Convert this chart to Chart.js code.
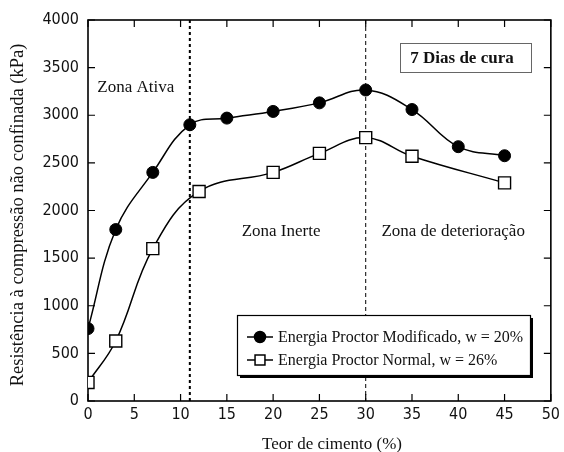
<!DOCTYPE html>
<html>
<head>
<meta charset="utf-8">
<script src="https://cdn.jsdelivr.net/npm/chart.js@4"></script>
<style>
  html, body { margin: 0; padding: 0; background: #fff; }
  canvas { display: block; }
</style>
</head>
<body>
<canvas id="grafico" width="564" height="452"></canvas>
<script>
// teor de cimento (%) e resistência (kPa)
const teorModificado = [0, 3, 7, 11, 15, 20, 25, 30, 35, 40, 45];
const resModificado = [760, 1800, 2400, 2900, 2970, 3040, 3130, 3265, 3060, 2670, 2575];
const teorNormal = [0, 3, 7, 12, 20, 25, 30, 35, 45];
const resNormal = [195, 630, 1600, 2200, 2400, 2600, 2765, 2570, 2290];

const nomeModificado = "Energia Proctor Modificado, w = 20%";
const nomeNormal = "Energia Proctor Normal, w = 26%";
const limitesZona = [11, 30];

const serif = "'Liberation Serif', 'Times New Roman', serif";
const sans = "'DejaVu Sans Condensed', sans-serif";

function pontos(xs, ys) {
  return xs.map((x, i) => ({ x: x, y: ys[i] }));
}

// ticks para dentro nos quatro lados, linhas das zonas e textos
const extras = {
  id: "extras",
  beforeDatasetsDraw(chart) {
    const c = chart.ctx;
    const sx = chart.scales.x, sy = chart.scales.y;
    const a = chart.chartArea;

    c.save();
    c.strokeStyle = "#000";
    // linha da zona ativa (pontilhada grossa)
    c.lineWidth = 2;
    c.setLineDash([3, 3]);
    let px = sx.getPixelForValue(limitesZona[0]);
    c.beginPath(); c.moveTo(px, a.top); c.lineTo(px, a.bottom); c.stroke();
    // linha da zona de deterioração (tracejada fina)
    c.lineWidth = 1;
    c.setLineDash([4, 3]);
    px = sx.getPixelForValue(limitesZona[1]);
    c.beginPath(); c.moveTo(px, a.top); c.lineTo(px, a.bottom); c.stroke();
    c.setLineDash([]);

    // ticks
    c.lineWidth = 1.2;
    c.beginPath();
    sx.ticks.forEach(t => {
      const p = sx.getPixelForValue(t.value);
      c.moveTo(p, a.bottom); c.lineTo(p, a.bottom - 7);
      c.moveTo(p, a.top); c.lineTo(p, a.top + 7);
    });
    sy.ticks.forEach(t => {
      const p = sy.getPixelForValue(t.value);
      c.moveTo(a.left, p); c.lineTo(a.left + 7, p);
      c.moveTo(a.right, p); c.lineTo(a.right - 7, p);
    });
    c.stroke();

    // moldura
    c.lineWidth = 1.6;
    c.strokeRect(a.left, a.top, a.right - a.left, a.bottom - a.top);

    // títulos dos eixos
    c.fillStyle = "#111";
    c.textAlign = "center";
    c.textBaseline = "middle";
    c.font = "17px " + serif;
    c.fillText("Teor de cimento (%)", 332, 445);
    c.save();
    c.translate(18, 215);
    c.rotate(-Math.PI / 2);
    c.font = "18.5px " + serif;
    c.fillText("Resistência à compressão não confinada (kPa)", 0, 0);
    c.restore();

    // textos das zonas
    c.font = "17px " + serif;
    c.textAlign = "left";
    c.fillText("Zona Ativa", sx.getPixelForValue(1.0), sy.getPixelForValue(3290));
    c.fillText("Zona Inerte", sx.getPixelForValue(16.6), sy.getPixelForValue(1780));
    c.fillText("Zona de deterioração", sx.getPixelForValue(31.7), sy.getPixelForValue(1780));

    // caixa "7 Dias de cura"
    c.fillStyle = "#fff";
    c.fillRect(400, 43, 132, 30);
    c.strokeStyle = "#666";
    c.lineWidth = 1;
    c.strokeRect(400.5, 43.5, 131, 29);
    c.fillStyle = "#111";
    c.font = "bold 17px " + serif;
    c.textAlign = "center";
    c.fillText("7 Dias de cura", 462, 59);
    c.restore();
  },
  afterDatasetsDraw(chart) {
    const c = chart.ctx;
    c.save();
    // legenda com sombra
    const bx = 237, by = 315, bw = 293, bh = 60;
    c.fillStyle = "#000";
    c.fillRect(bx + 3, by + 3, bw, bh);
    c.fillStyle = "#fff";
    c.fillRect(bx, by, bw, bh);
    c.strokeStyle = "#000";
    c.lineWidth = 1.2;
    c.strokeRect(bx + 0.5, by + 0.5, bw, bh);

    const linhas = [
      { nome: nomeModificado, y: by + 22, ds: chart.data.datasets[0], r: 5.5 },
      { nome: nomeNormal, y: by + 45, ds: chart.data.datasets[1], r: 7 }
    ];
    linhas.forEach(l => {
      c.strokeStyle = "#000";
      c.fillStyle = l.ds.pointBackgroundColor;
      c.lineWidth = 1.5;
      c.beginPath(); c.moveTo(bx + 10, l.y); c.lineTo(bx + 36, l.y); c.stroke();
      Chart.helpers.drawPoint(c, {
        pointStyle: l.ds.pointStyle,
        radius: l.r,
        borderWidth: l.ds.pointBorderWidth
      }, bx + 23, l.y);
      c.fillStyle = "#111";
      c.font = "16px " + serif;
      c.textAlign = "left";
      c.textBaseline = "middle";
      c.fillText(l.nome, bx + 41, l.y + 1);
    });
    c.restore();
  }
};

new Chart(document.getElementById("grafico"), {
  type: "scatter",
  data: {
    datasets: [
      {
        label: nomeModificado,
        data: pontos(teorModificado, resModificado),
        showLine: true,
        tension: 0.4,
        borderColor: "#000",
        borderWidth: 1.5,
        pointStyle: "circle",
        pointRadius: 6,
        pointBorderWidth: 1,
        pointBackgroundColor: "#000",
        pointBorderColor: "#000"
      },
      {
        label: nomeNormal,
        data: pontos(teorNormal, resNormal),
        showLine: true,
        tension: 0.4,
        borderColor: "#000",
        borderWidth: 1.5,
        pointStyle: "rect",
        pointRadius: 8.5,
        pointBorderWidth: 1.4,
        pointBackgroundColor: "#fff",
        pointBorderColor: "#000"
      }
    ]
  },
  plugins: [extras],
  options: {
    responsive: false,
    animation: false,
    events: [],
    layout: { padding: { left: 0, right: 8, top: 20, bottom: 0 } },
    plugins: {
      legend: { display: false },
      tooltip: { enabled: false }
    },
    scales: {
      x: {
        type: "linear",
        min: 0,
        max: 50,
        ticks: { stepSize: 5, maxRotation: 0, color: "#111", font: { family: sans, size: 16 }, padding: 4, callback: v => String(v) },
        grid: { display: false, drawTicks: false },
        border: { display: false },
        afterFit(s) { s.height = 51; }
      },
      y: {
        min: 0,
        max: 4000,
        ticks: { stepSize: 500, color: "#111", font: { family: sans, size: 16 }, padding: 9, callback: v => String(v) },
        grid: { display: false, drawTicks: false },
        border: { display: false },
        afterFit(s) { s.width = 88; }
      }
    }
  }
});
</script>
</body>
</html>
